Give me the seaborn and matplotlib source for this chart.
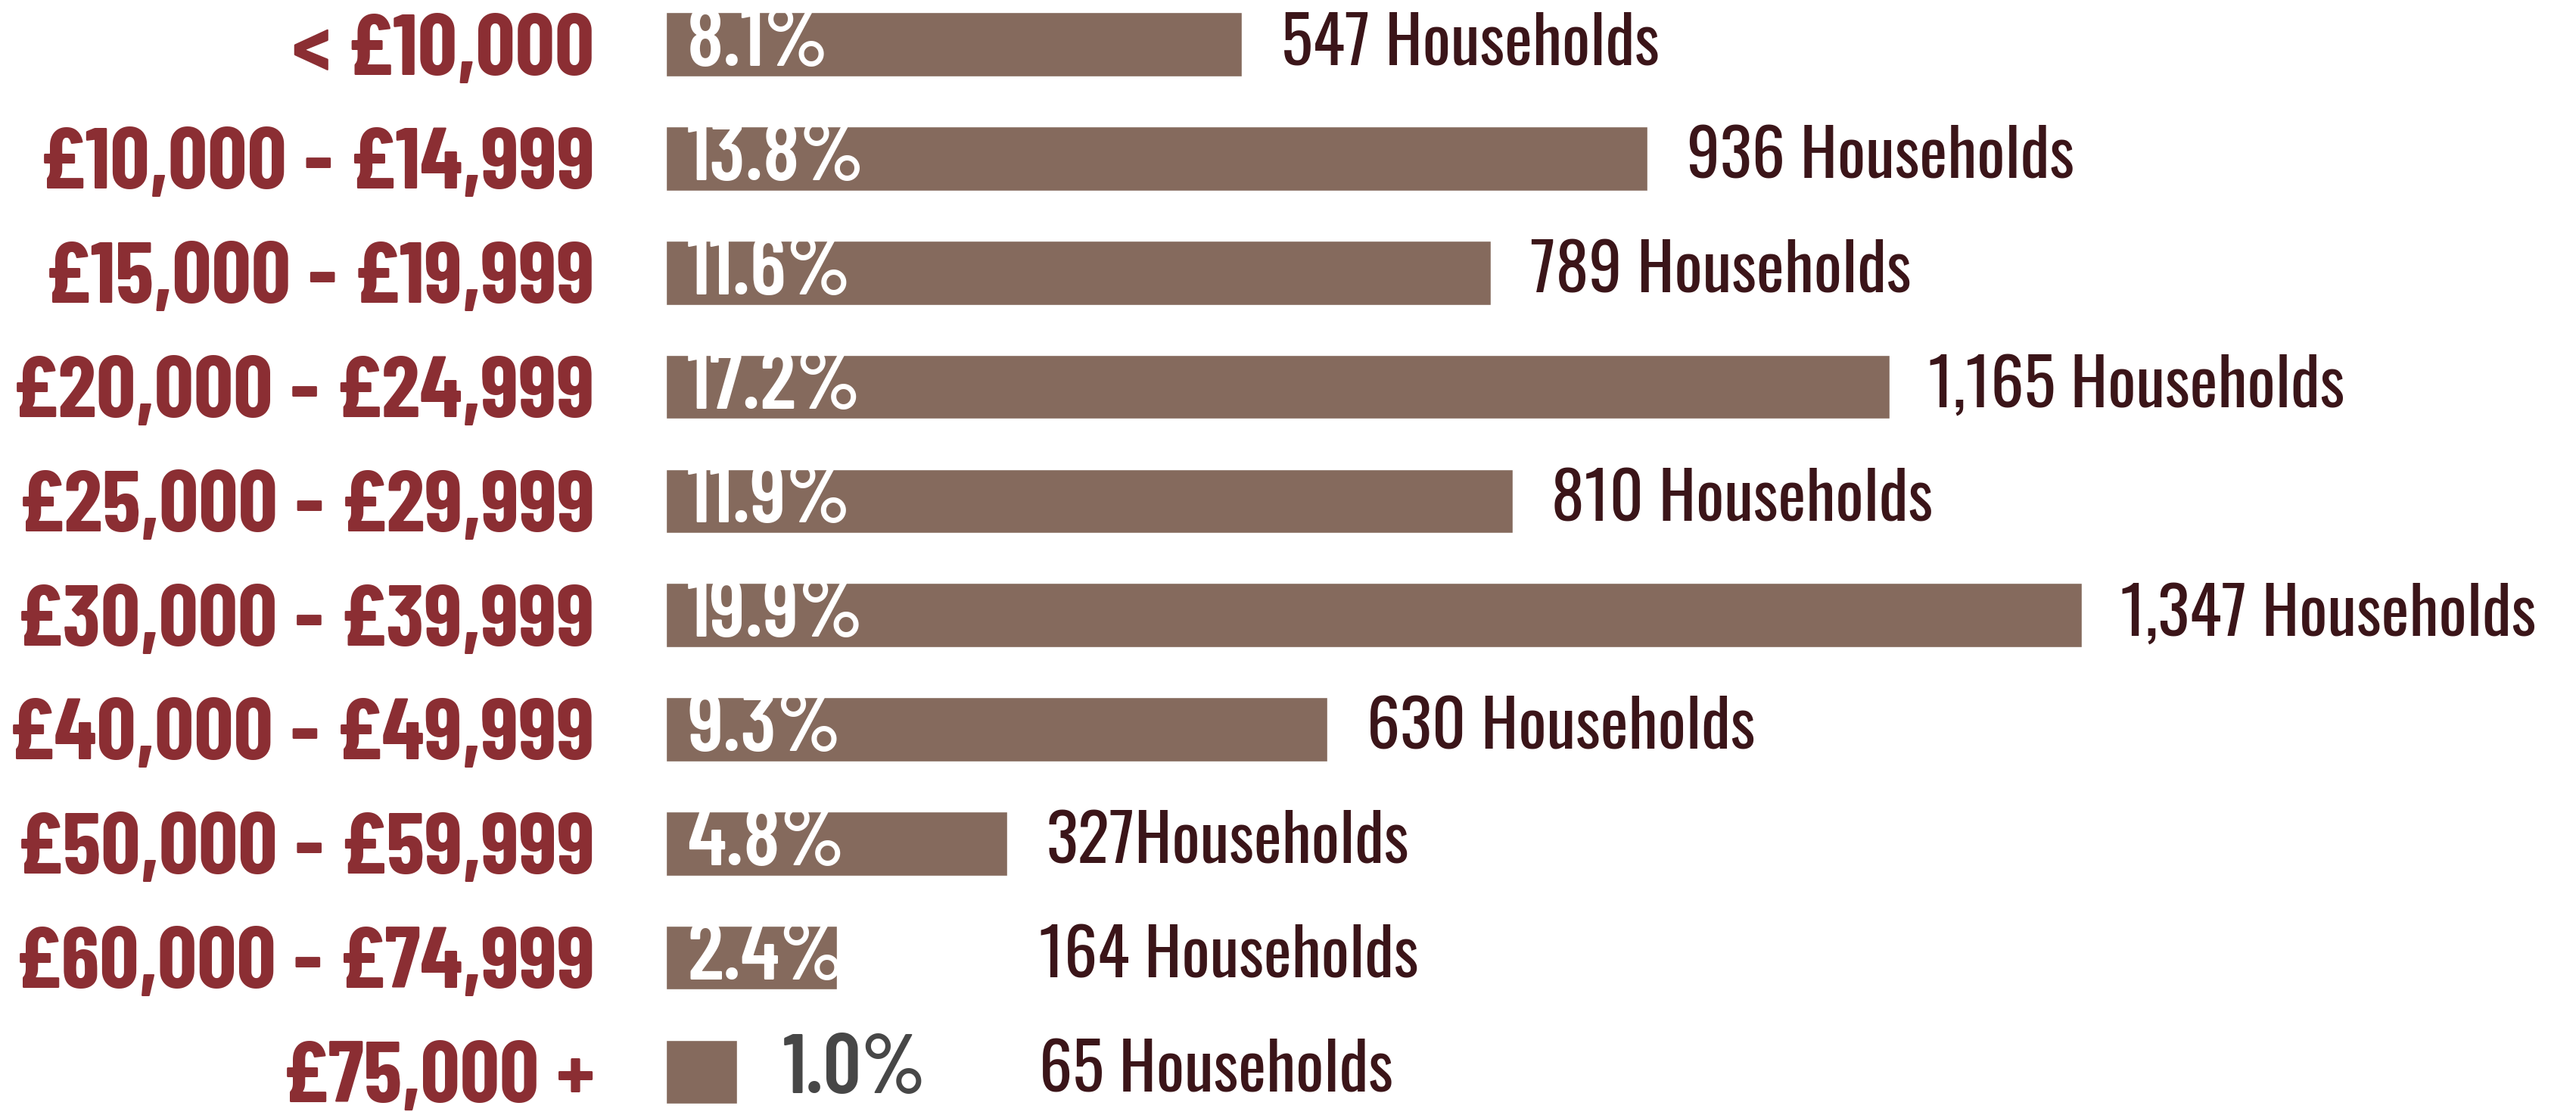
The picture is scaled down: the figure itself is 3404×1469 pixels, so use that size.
import numpy as np
import pandas as pd
import seaborn as sns
import matplotlib.pyplot as plt

# household income bands
bands = ["< £10,000", "£10,000 - £14,999", "£15,000 - £19,999", "£20,000 - £24,999",
         "£25,000 - £29,999", "£30,000 - £39,999", "£40,000 - £49,999",
         "£50,000 - £59,999", "£60,000 - £74,999", "£75,000 +"]
share = [8.1, 13.8, 11.6, 17.2, 11.9, 19.9, 9.3, 4.8, 2.4, 1.0]
households = ["547 Households", "936 Households", "789 Households", "1,165 Households",
              "810 Households", "1,347 Households", "630 Households", "327Households",
              "164 Households", "65 Households"]

df = pd.DataFrame({"band": bands, "share": share})

sns.set_style("white")
plt.rcParams["font.family"] = ["Oswald", "DejaVu Sans"]
bold_font = ["Barlow Condensed", "DejaVu Sans"]

bar_col = "#856A5D"
red = "#8B2E33"
dark = "#3B1519"

fig = plt.figure(figsize=(34.05, 14.69), dpi=100)
ax = fig.add_axes([880 / 3405, 0, 1 - 880 / 3405, 1])

sns.barplot(data=df, x="share", y="band", orient="h", color=bar_col,
            saturation=1, width=0.56, ax=ax)

ax.set_xlim(0, (3405 - 880) / 94.0)
ax.set_ylim(9.352, -0.389)
ax.set_xlabel("")
ax.set_ylabel("")
ax.set_xticks([])
sns.despine(ax=ax, left=True, bottom=True)
ax.tick_params(axis="y", length=0, pad=68)
for lab in ax.get_yticklabels():
    lab.set_family(bold_font)
    lab.set_fontsize(83)
    lab.set_fontweight(700)
    lab.set_color(red)

for i, (p, h) in enumerate(zip(share, households)):
    if p >= 2:
        ax.text(0.3, i, f"{p}%", ha="left", va="center", fontsize=80,
                family=bold_font, fontweight=600, color="white")
    else:
        ax.text(p + 0.65, i, f"{p}%", ha="left", va="center", fontsize=80,
                family=bold_font, fontweight=600, color="#474747")
    ax.text(max(p + 0.55, 5.24), i, h, ha="left", va="center", fontsize=63,
            color=dark)

fig.savefig("out.png", dpi=100)
